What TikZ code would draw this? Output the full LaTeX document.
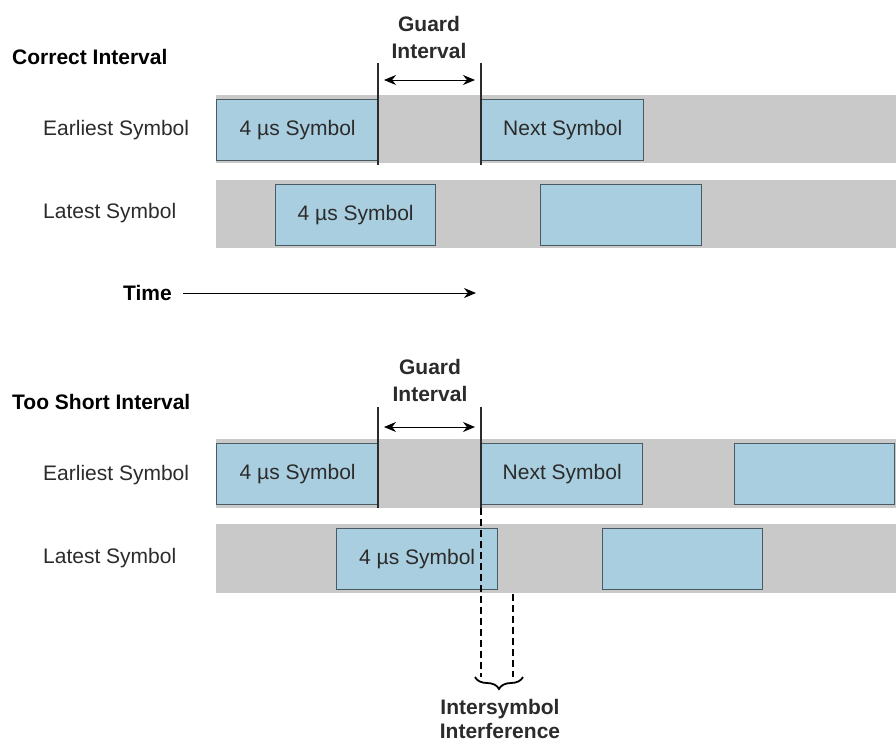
\documentclass[tikz,border=0pt]{standalone}
\usepackage{fontspec}
\setmainfont{Liberation Sans}
\usetikzlibrary{arrows.meta,decorations.pathreplacing}
\definecolor{bandgrey}{HTML}{C9C9C9}
\definecolor{boxblue}{HTML}{A9CEDF}
\definecolor{boxedge}{HTML}{4A5A62}
\definecolor{txt}{HTML}{2B2B2B}
\tikzset{
  band/.style={fill=bandgrey, draw=none},
  symbox/.style={draw=boxedge, fill=boxblue, line width=1.4pt, anchor=north west,
    minimum height=61pt, inner sep=0pt, text=txt, font=\fontsize{21}{25}\selectfont},
  rowlabel/.style={anchor=west, inner sep=0pt, text=txt, font=\fontsize{21}{25}\selectfont},
  title/.style={anchor=west, inner sep=0pt, text=black, font=\fontsize{21}{25}\selectfont\bfseries},
  guardtxt/.style={align=center, inner sep=0pt, text=txt, font=\fontsize{21}{27}\selectfont\bfseries},
  guardline/.style={draw=txt, line width=1.8pt},
  guardarrow/.style={draw=black, line width=0.9pt, {Stealth[length=12pt,width=10pt]}-{Stealth[length=12pt,width=10pt]}},
  timearrow/.style={draw=black, line width=0.9pt, -{Stealth[length=12pt,width=10pt]}},
  isi/.style={draw=black, line width=1.4pt, dash pattern=on 7pt off 4pt}
}
\begin{document}
\begin{tikzpicture}[x=1pt,y=-1pt]
\useasboundingbox (0,0) rectangle (896,746);
\fill[white] (0,0) rectangle (896,746);

% ================= Correct Interval =================
\node[title] (t1) at (12,57) {Correct Interval};
\fill[band] (216,95) rectangle (896,163);
\fill[band] (216,180) rectangle (896,248);
\node[rowlabel] (e1) at (43,130) {Earliest Symbol};
\node[rowlabel] (l1) at (43,213) {Latest Symbol};

\node[symbox, minimum width=162pt] (a1) at (216,99) {4 µs Symbol};
\node[symbox, minimum width=162pt] (a2) at (481,99) {Next Symbol};
\node[symbox, minimum width=160pt] (a3) at (275,184) {4 µs Symbol};
\node[symbox, minimum width=161pt] (a4) at (540,184) {};

\coordinate (g1t) at (378,63);
\coordinate (g1b) at (378,165);
\coordinate (g2t) at (481,63);
\coordinate (g2b) at (481,165);
\draw[guardline] (g1t) -- (g1b);
\draw[guardline] (g2t) -- (g2b);
\coordinate (ga1) at (379,80);
\coordinate (ga2) at (480,80);
\draw[guardarrow] ([xshift=5pt]ga1) -- ([xshift=-5pt]ga2);
\node[guardtxt] (gt1) at (429,37) {Guard\\Interval};

\node[title] (time) at (123,293) {Time};
\coordinate (tstart) at (183,293);
\coordinate (tend) at (476,293);
\draw[timearrow] (tstart) -- (tend);

% ================= Too Short Interval =================
\node[title] (t2) at (12,402) {Too Short Interval};
\fill[band] (216,439) rectangle (896,508);
\fill[band] (216,524) rectangle (896,593);
\node[rowlabel] (e2) at (43,475) {Earliest Symbol};
\node[rowlabel] (l2) at (43,558) {Latest Symbol};

\node[symbox, minimum width=162pt] (b1) at (216,443) {4 µs Symbol};
\node[symbox, minimum width=161pt] (b2) at (481,443) {Next Symbol};
\node[symbox, minimum width=160pt] (b3) at (734,443) {};
\node[symbox, minimum width=161pt] (b4) at (336,528) {4 µs Symbol};
\node[symbox, minimum width=160pt] (b5) at (602,528) {};

\coordinate (h1t) at (378,407);
\coordinate (h1b) at (378,508);
\coordinate (h2t) at (481,407);
\coordinate (h2b) at (481,508);
\draw[guardline] (h1t) -- (h1b);
\draw[guardline] (h2t) -- (h2b);
\coordinate (ha1) at (379,427);
\coordinate (ha2) at (480,427);
\draw[guardarrow] ([xshift=5pt]ha1) -- ([xshift=-5pt]ha2);
\node[guardtxt] (gt2) at (430,380) {Guard\\Interval};

% intersymbol interference
\coordinate (d1e) at (481,677);
\coordinate (d2t) at (513,594);
\coordinate (d2e) at (513,677);
\draw[isi] (h2b) -- (d1e);
\draw[isi] (d2t) -- (d2e);
\coordinate (br1) at (475,677);
\coordinate (br2) at (523,677);
\draw[black, line width=1.8pt, decorate, decoration={brace, mirror, amplitude=12pt}] (br1) -- (br2);
\node[guardtxt, font=\fontsize{21}{24}\selectfont\bfseries] (isitxt) at (500,719) {Intersymbol\\Interference};
\end{tikzpicture}
\end{document}
